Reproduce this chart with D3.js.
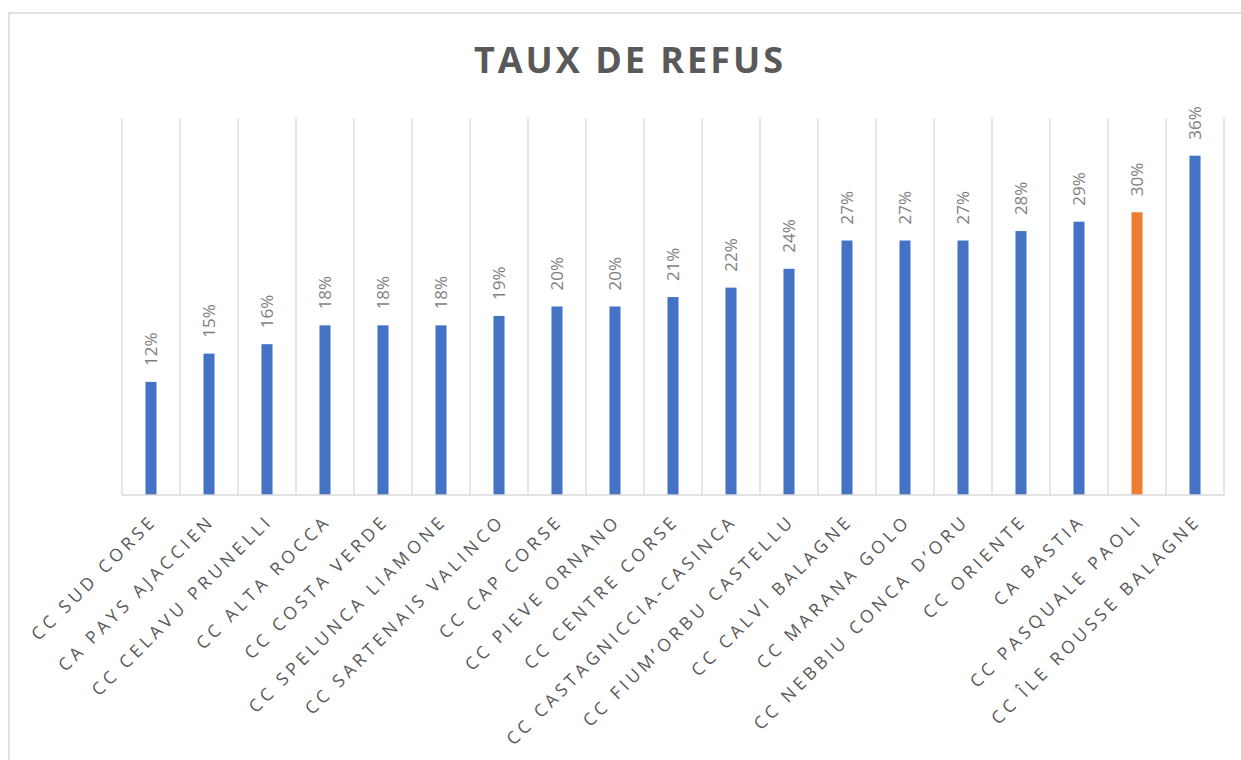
<!DOCTYPE html>
<html>
<head>
    <meta charset="utf-8">
    <script type="text/javascript" src="https://cdn.jsdelivr.net/npm/d3@7"></script>
    <style>
        body { margin: 0; background: white; }
    </style>
</head>
<body>
    <div id="chart"></div>
    <script type="text/javascript">

        // categories and refusal rates (in %)
        let categories = ["CC SUD CORSE", "CA PAYS AJACCIEN", "CC CELAVU PRUNELLI", "CC ALTA ROCCA",
            "CC COSTA VERDE", "CC SPELUNCA LIAMONE", "CC SARTENAIS VALINCO", "CC CAP CORSE",
            "CC PIEVE ORNANO", "CC CENTRE CORSE", "CC CASTAGNICCIA-CASINCA", "CC FIUM\u2019ORBU CASTELLU",
            "CC CALVI BALAGNE", "CC MARANA GOLO", "CC NEBBIU CONCA D\u2019ORU", "CC ORIENTE",
            "CA BASTIA", "CC PASQUALE PAOLI", "CC ÎLE ROUSSE BALAGNE"];
        let values = [12, 15, 16, 18, 18, 18, 19, 20, 20, 21, 22, 24, 27, 27, 27, 28, 29, 30, 36];
        let highlighted = ["CC PASQUALE PAOLI"];
        let title = "TAUX DE REFUS";

        let width = 1241;
        let height = 760;
        let plotLeft = 122, plotRight = 1224, plotTop = 118, plotBottom = 495;

        let svg = d3.select("#chart")
            .append("svg")
            .attr("width", width)
            .attr("height", height)
            .style("background-color", "white");

        // chart frame
        svg.append("rect")
            .attr("x", 9)
            .attr("y", 13)
            .attr("width", width)
            .attr("height", height)
            .style("fill", "none")
            .style("stroke", "#d9d9d9")
            .style("stroke-width", 1.5);

        let x = d3.scaleBand()
            .domain(categories)
            .range([plotLeft, plotRight])
            .paddingInner(0.81)
            .paddingOuter(0.405);

        let y = d3.scaleLinear()
            .domain([0, 40])
            .range([plotBottom, plotTop]);

        let step = x.step();

        // vertical gridlines between categories
        svg.selectAll("line.grid")
            .data(d3.range(categories.length + 1))
            .enter()
            .append("line")
            .attr("class", "grid")
            .attr("x1", d => plotLeft + d * step)
            .attr("x2", d => plotLeft + d * step)
            .attr("y1", plotTop)
            .attr("y2", plotBottom)
            .style("stroke", "#d9d9d9")
            .style("stroke-width", 1.3);

        // bars
        svg.selectAll("rect.bar")
            .data(categories)
            .enter()
            .append("rect")
            .attr("class", "bar")
            .attr("x", d => x(d))
            .attr("y", (d, i) => y(values[i]))
            .attr("width", x.bandwidth())
            .attr("height", (d, i) => plotBottom - y(values[i]))
            .style("fill", d => highlighted.includes(d) ? "#ED7D31" : "#4472C4");

        // baseline
        svg.append("line")
            .attr("x1", plotLeft)
            .attr("x2", plotRight)
            .attr("y1", plotBottom)
            .attr("y2", plotBottom)
            .style("stroke", "#d9d9d9")
            .style("stroke-width", 1.5);

        // value labels, rotated
        svg.selectAll("text.val")
            .data(categories)
            .enter()
            .append("text")
            .attr("class", "val")
            .attr("transform", (d, i) => `translate(${x(d) + x.bandwidth() / 2 + 6}, ${y(values[i]) - 16}) rotate(-90)`)
            .text((d, i) => values[i] + "%")
            .style("font-family", "'Open Sans', sans-serif")
            .style("font-size", "17px")
            .style("fill", "#7f7f7f");

        // category labels, rotated -45
        svg.selectAll("text.cat")
            .data(categories)
            .enter()
            .append("text")
            .attr("class", "cat")
            .attr("transform", d => `translate(${x(d) + x.bandwidth() / 2 + 7}, ${plotBottom + 27}) rotate(-45)`)
            .attr("text-anchor", "end")
            .text(d => d)
            .style("font-family", "'Open Sans', sans-serif")
            .style("font-size", "17.5px")
            .style("letter-spacing", "4px")
            .style("fill", "#595959");

        // title
        svg.append("text")
            .attr("x", 630)
            .attr("y", 73)
            .attr("text-anchor", "middle")
            .text(title)
            .style("font-family", "'Open Sans', sans-serif")
            .style("font-weight", "bold")
            .style("font-size", "36px")
            .style("letter-spacing", "3px")
            .style("fill", "#595959");

    </script>
</body>
</html>
